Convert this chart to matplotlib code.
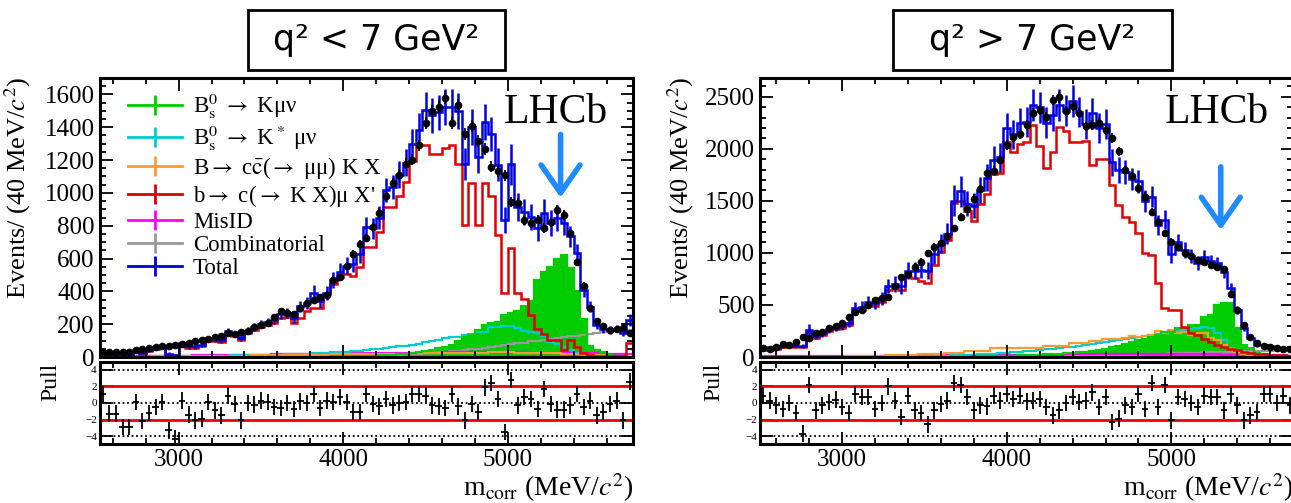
import numpy as np
import matplotlib
matplotlib.use('Agg')
import matplotlib.pyplot as plt
from matplotlib.lines import Line2D
from matplotlib.patches import Rectangle
from matplotlib.ticker import MultipleLocator

plt.rcParams['font.family'] = ['Liberation Serif', 'DejaVu Serif']
plt.rcParams['mathtext.fontset'] = 'stix'

# ---- binning (40 MeV bins) ----
edges_lo = np.arange(2520, 5761, 40)
edges_hi = np.arange(2500, 5741, 40)

# ---- q2 < 7 GeV2 ----
data_lo = [30, 30, 30, 30, 32, 40, 48, 57, 60, 65,
           69, 75, 80, 85, 95, 104, 112, 124, 126, 145,
           140, 150, 160, 185, 195, 210, 245, 280, 270, 260,
           300, 330, 348, 365, 380, 470, 485, 552, 627, 688,
           725, 790, 878, 983, 1061, 1112, 1177, 1203, 1289, 1427,
           1499, 1525, 1580, 1427, 1533, 1356, 1407, 1315, 1269, 1159,
           1132, 1106, 943, 939, 833, 816, 837, 786, 820, 898,
           867, 755, 576, 434, 297, 222, 189, 165, 169, 175,
           145]
total_lo = [39, 20, 20, 12, 12, 42, 26, 45, 55, 66,
            20, 12, 85, 64, 65, 76, 113, 111, 104, 159,
            140, 118, 160, 182, 200, 212, 228, 259, 270, 235,
            308, 330, 392, 341, 392, 470, 520, 557, 567, 628,
            790, 784, 850, 1018, 1036, 1112, 1185, 1297, 1384, 1507,
            1472, 1490, 1525, 1522, 1498, 1176, 1399, 1220, 1434, 1359,
            1172, 836, 1173, 915, 883, 851, 787, 880, 815, 848,
            817, 735, 631, 409, 307, 197, 171, 165, 173, 145,
            225]
total_err_lo = [12, 8, 8, 6, 6, 12, 8, 12, 12, 14,
                8, 6, 15, 14, 14, 15, 18, 18, 18, 20,
                20, 18, 22, 24, 25, 26, 28, 30, 30, 30,
                35, 38, 45, 40, 42, 48, 50, 52, 52, 55,
                65, 65, 70, 75, 75, 80, 85, 95, 100, 105,
                105, 105, 110, 110, 108, 95, 110, 100, 110, 105,
                100, 80, 125, 85, 80, 80, 78, 82, 78, 78,
                72, 65, 55, 42, 32, 24, 22, 22, 22, 20,
                35]
red_lo = [25, 12, 12, 6, 6, 35, 20, 38, 48, 58,
          14, 6, 75, 55, 56, 66, 100, 98, 92, 145,
          125, 105, 145, 165, 185, 195, 208, 235, 245, 205,
          240, 281, 300, 300, 383, 444, 485, 505, 495, 546,
          668, 668, 760, 913, 913, 984, 1069, 1197, 1289, 1289,
          1234, 1234, 1273, 1289, 1173, 806, 1063, 806, 1063, 979,
          745, 389, 666, 389, 354, 257, 169, 139, 104, 104,
          43, 104, 60, 24, 15, 8, 5, 5, 5, 5,
          88]
green_lo = [0, 0, 0, 0, 0, 0, 0, 0, 0, 0,
            0, 0, 0, 0, 0, 0, 0, 0, 0, 0,
            0, 0, 0, 0, 0, 1, 1, 1, 1, 1,
            2, 2, 2, 3, 3, 4, 4, 5, 6, 7,
            8, 9, 10, 12, 14, 17, 20, 24, 30, 36,
            44, 52, 62, 75, 95, 124, 134, 165, 195, 206,
            216, 257, 267, 280, 310, 340, 470, 520, 550, 600,
            620, 540, 400, 230, 70, 45, 30, 15, 8, 4,
            2]
cyan_lo = [2, 2, 2, 3, 3, 3, 3, 4, 4, 4,
           5, 5, 5, 6, 6, 7, 7, 8, 8, 9,
           10, 10, 11, 12, 12, 13, 14, 15, 16, 18,
           19, 20, 22, 24, 26, 28, 30, 32, 35, 38,
           42, 46, 50, 55, 60, 65, 70, 75, 80, 90,
           100, 104, 115, 124, 124, 135, 140, 155, 155, 181,
           181, 189, 189, 175, 161, 155, 145, 130, 94, 80,
           63, 43, 25, 15, 8, 5, 3, 2, 1, 1,
           1]
orange_lo = [2, 2, 2, 2, 3, 3, 3, 3, 4, 4,
             4, 5, 5, 5, 6, 6, 6, 7, 7, 8,
             8, 9, 9, 10, 10, 11, 11, 12, 12, 13,
             13, 14, 14, 15, 15, 16, 16, 17, 17, 18,
             18, 19, 19, 20, 20, 21, 21, 22, 22, 23,
             23, 24, 24, 25, 25, 26, 26, 27, 27, 28,
             28, 28, 28, 27, 27, 26, 25, 24, 23, 22,
             21, 20, 18, 16, 14, 12, 10, 8, 6, 4,
             2]
magenta_lo = [3, 3, 4, 4, 5, 5, 6, 6, 7, 7,
              8, 8, 9, 9, 10, 10, 11, 11, 12, 12,
              13, 13, 14, 14, 15, 15, 16, 16, 17, 17,
              18, 18, 19, 19, 20, 20, 21, 21, 22, 22,
              23, 23, 24, 24, 25, 25, 26, 26, 26, 27,
              27, 27, 28, 28, 28, 28, 29, 29, 29, 29,
              29, 29, 28, 28, 28, 27, 27, 26, 26, 25,
              25, 24, 24, 23, 22, 22, 21, 20, 20, 19,
              18]
gray_lo = [1, 1, 1, 1, 1, 1, 1, 1, 1, 1,
           1, 1, 1, 1, 1, 1, 1, 1, 1, 1,
           1, 1, 1, 1, 1, 1, 1, 1, 1, 1,
           2, 2, 2, 3, 3, 3, 3, 4, 4, 4,
           5, 6, 8, 10, 12, 14, 16, 18, 20, 22,
           25, 28, 30, 34, 38, 42, 46, 50, 55, 60,
           65, 75, 80, 84, 88, 95, 100, 105, 110, 115,
           120, 125, 130, 135, 140, 145, 150, 155, 158, 162,
           165]
pull_lo = [1.1, -1.3, -1.3, -2.9, -2.9, 0.1, -2.2, -1.2, -0.5, 0.1,
           -3.3, -4.3, 0.3, -1.4, -2.1, -1.9, 0.1, -0.9, -1.5, 0.9,
           -0.1, -2.1, 0.0, -0.2, 0.3, 0.1, -0.5, -0.6, 0.0, -0.7,
           0.2, 0.0, 1.1, -0.6, 0.3, 0.1, 0.7, 0.1, -1.1, -1.1,
           1.1, -0.1, -0.4, 0.5, -0.3, 0.0, 0.1, 1.1, 1.1, 0.9,
           -0.3, -0.4, -0.6, 1.1, -0.4, -2.1, -0.1, -1.1, 1.9, 2.4,
           0.5, -3.5, 2.8, -0.3, 0.7, 0.5, -0.7, 1.7, -0.1, -0.8,
           -0.8, -0.3, 1.1, -0.5, 0.3, -1.5, -1.1, -0.1, 0.3, -2.1,
           2.6]

# ---- q2 > 7 GeV2 ----
data_hi = [83, 80, 99, 122, 120, 141, 195, 185, 228, 240,
           276, 300, 330, 381, 436, 452, 500, 548, 564, 580,
           680, 772, 798, 869, 917, 997, 1061, 1093, 1160, 1237,
           1349, 1426, 1522, 1612, 1766, 1788, 1894, 2038, 2109, 2141,
           2228, 2343, 2372, 2308, 2468, 2494, 2365, 2413, 2343, 2215,
           2228, 2244, 2180, 2103, 1974, 1792, 1740, 1622, 1541, 1397,
           1301, 1189, 1109, 1061, 1003, 971, 933, 917, 885, 862,
           843, 606, 452, 308, 196, 131, 106, 93, 83, 80,
           78]
total_hi = [100, 82, 88, 108, 112, 110, 105, 260, 200, 230,
            270, 290, 300, 330, 470, 480, 530, 520, 564, 680,
            700, 680, 830, 830, 840, 830, 990, 1090, 1185, 1500,
            1590, 1470, 1452, 1600, 1720, 1890, 1917, 2200, 2140, 2250,
            2260, 2420, 2400, 2250, 2320, 2420, 2365, 2460, 2350, 2240,
            2340, 2200, 2240, 1870, 1800, 1775, 1710, 1690, 1500, 1540,
            1270, 1320, 990, 1100, 1030, 971, 905, 965, 920, 900,
            815, 661, 452, 280, 185, 120, 115, 102, 83, 86,
            76]
total_err_hi = [20, 15, 15, 18, 18, 18, 18, 55, 30, 35,
                35, 38, 40, 45, 55, 55, 60, 60, 62, 70,
                75, 75, 85, 80, 85, 85, 95, 95, 100, 150,
                150, 120, 120, 125, 130, 140, 140, 145, 140, 145,
                145, 150, 150, 150, 145, 150, 150, 150, 145, 145,
                150, 145, 145, 130, 125, 115, 110, 110, 105, 100,
                95, 90, 85, 80, 75, 70, 68, 65, 62, 60,
                55, 50, 40, 30, 25, 20, 18, 16, 15, 15,
                14]
red_hi = [90, 72, 78, 98, 102, 100, 95, 240, 182, 212,
          250, 270, 280, 308, 445, 455, 500, 490, 530, 645,
          660, 640, 772, 760, 734, 708, 885, 1013, 1125, 1484,
          1494, 1400, 1308, 1468, 1564, 1756, 1763, 2061, 1965, 2045,
          2067, 2228, 2029, 1811, 1965, 2205, 2173, 2067, 2067, 2077,
          1843, 1901, 1901, 1650, 1462, 1349, 1301, 1189, 997, 981,
          708, 468, 452, 452, 292, 228, 212, 170, 148, 115,
          99, 74, 67, 51, 40, 30, 25, 20, 18, 15,
          12]
green_hi = [0, 0, 0, 0, 0, 0, 0, 0, 0, 0,
            0, 0, 0, 0, 0, 0, 0, 0, 0, 0,
            1, 1, 1, 1, 1, 2, 2, 2, 2, 3,
            3, 4, 5, 6, 7, 8, 10, 12, 14, 16,
            18, 20, 22, 25, 28, 32, 36, 40, 45, 52,
            60, 70, 80, 95, 110, 125, 140, 160, 175, 190,
            210, 244, 244, 276, 276, 308, 308, 388, 404, 500,
            516, 516, 276, 119, 83, 40, 25, 12, 6, 3,
            2]
cyan_hi = [0, 0, 0, 0, 0, 0, 0, 0, 0, 0,
           1, 1, 1, 1, 2, 2, 2, 3, 3, 4,
           4, 5, 6, 7, 8, 9, 10, 12, 14, 16,
           18, 20, 22, 25, 28, 32, 36, 40, 45, 50,
           56, 62, 68, 74, 80, 86, 92, 100, 108, 116,
           124, 132, 140, 150, 160, 170, 180, 190, 200, 210,
           225, 235, 245, 250, 260, 270, 280, 285, 280, 230,
           160, 90, 45, 25, 12, 6, 3, 2, 1, 1,
           0]
orange_hi = [0, 0, 0, 0, 0, 0, 0, 0, 0, 0,
             0, 0, 0, 5, 8, 10, 10, 12, 12, 15,
             15, 18, 20, 22, 25, 28, 30, 32, 35, 35,
             35, 60, 60, 60, 60, 83, 83, 83, 83, 90,
             90, 90, 90, 106, 106, 106, 106, 138, 138, 138,
             155, 155, 170, 170, 170, 180, 200, 190, 200, 210,
             250, 230, 260, 228, 240, 210, 228, 228, 180, 163,
             120, 80, 50, 30, 20, 12, 8, 5, 3, 2,
             1]
magenta_hi = [5, 5, 5, 6, 6, 6, 7, 7, 7, 8,
              8, 8, 9, 9, 10, 10, 10, 11, 11, 12,
              12, 12, 13, 13, 14, 14, 15, 15, 16, 16,
              17, 17, 18, 18, 19, 19, 20, 20, 21, 21,
              22, 22, 23, 23, 24, 24, 25, 25, 26, 26,
              27, 27, 28, 28, 28, 29, 29, 29, 30, 30,
              30, 30, 30, 29, 29, 28, 28, 27, 26, 25,
              24, 23, 22, 21, 20, 19, 18, 17, 16, 15,
              14]
gray_hi = [0, 0, 0, 0, 0, 0, 0, 0, 0, 0,
           0, 0, 0, 0, 1, 1, 1, 1, 1, 2,
           2, 2, 2, 3, 3, 3, 3, 4, 4, 4,
           5, 5, 5, 6, 6, 6, 7, 7, 8, 8,
           9, 9, 10, 10, 11, 12, 12, 13, 14, 15,
           16, 17, 18, 19, 20, 21, 22, 24, 26, 28,
           30, 32, 34, 36, 38, 40, 42, 44, 46, 48,
           50, 52, 54, 55, 56, 57, 58, 58, 59, 60,
           60]
pull_hi = [0.9, 0.3, -0.3, -0.7, 0.0, -1.2, -3.7, 2.2, -0.9, -0.3,
           0.1, 0.4, -0.5, -1.2, 1.1, 0.7, 0.7, -0.7, 0.0, 2.0,
           0.3, -1.7, 0.9, -0.9, -1.2, -2.6, -0.9, -0.1, 0.3, 2.4,
           2.2, 0.7, -0.9, -0.3, -0.4, 0.9, 0.3, 1.1, 0.5, 0.9,
           0.2, 0.3, 0.5, -0.5, -1.5, -0.9, 0.0, 0.7, 0.1, 0.3,
           1.3, -0.5, 0.7, -2.3, -1.9, -0.3, -0.5, 1.1, -0.7, 2.4,
           -0.5, 2.2, -2.1, 0.7, 0.5, 0.0, -0.5, 0.9, 0.7, 0.7,
           -0.9, 1.1, -0.3, -2.1, -1.5, -1.1, 1.1, 1.1, 0.0, 0.9,
           -0.3]

labels = [r'B$_\mathrm{s}^0$ $\rightarrow$ Kμν',
          r'B$_\mathrm{s}^0$ $\rightarrow$ K$^*$ μν',
          r'B$\rightarrow$ c$\bar{\mathrm{c}}$($\rightarrow$ μμ) K X',
          r"b$\rightarrow$ c($\rightarrow$ K X)μ X'",
          'MisID', 'Combinatorial', 'Total']

GREEN, CYAN, ORANGE, RED = '#00CC00', '#00CCCC', '#FF9933', '#DD0000'
MAGENTA, GRAY, BLUE = '#FF00FF', '#999999', '#0000DD'
ARROW = '#1E8CFF'


def style(a):
    a.tick_params(which='both', direction='in', top=True, right=True, width=1.3)
    a.tick_params(which='major', length=9)
    a.tick_params(which='minor', length=4.5)
    for s in a.spines.values():
        s.set_linewidth(2.2)


def panel(ax, axp, edges, data, total, total_err, red, green, cyan, orange,
          magenta, gray, pull, ymax, ymaj, ymin, lab_x, plab_x):
    c = 0.5 * (edges[:-1] + edges[1:])
    ax.stairs(green, edges, fill=True, color=GREEN, lw=0)
    for vals, col in [(gray, GRAY), (magenta, MAGENTA), (cyan, CYAN),
                      (orange, ORANGE), (green, GREEN)]:
        ax.stairs(vals, edges, color=col, lw=1.6)
    ax.stairs(red, edges, color=RED, lw=1.8)
    ax.stairs(total, edges, color=BLUE, lw=1.8)
    ax.errorbar(c, total, yerr=total_err, fmt='none', ecolor=BLUE, elinewidth=1.8)
    data = np.array(data, dtype=float)
    ax.errorbar(c, data, yerr=np.sqrt(data), fmt='o', color='k', ms=4.5,
                elinewidth=1.2, capsize=0)

    ax.set_xlim(edges[0], edges[-1])
    ax.set_ylim(0, ymax)
    ax.xaxis.set_major_locator(MultipleLocator(1000))
    ax.xaxis.set_minor_locator(MultipleLocator(200))
    ax.yaxis.set_major_locator(MultipleLocator(ymaj))
    ax.yaxis.set_minor_locator(MultipleLocator(ymin))
    ax.tick_params(labelbottom=False, labelsize=18)
    style(ax)
    ax.set_ylabel(r'Events/ (40 MeV/$c^2$)', fontsize=19)
    ax.yaxis.set_label_coords(lab_x, 0.6075)

    axp.axhline(2, color='#EE0000', lw=2)
    axp.axhline(-2, color='#EE0000', lw=2)
    for y in (-4, 0, 4):
        axp.axhline(y, color='k', ls=(0, (1, 1.5)), lw=1.3)
    axp.errorbar(c, pull, yerr=1, xerr=20, fmt='none', ecolor='k', elinewidth=1.3)
    axp.set_xlim(edges[0], edges[-1])
    axp.set_ylim(-5, 5)
    axp.set_yticks([-4, -2, 0, 2, 4])
    axp.xaxis.set_major_locator(MultipleLocator(1000))
    axp.xaxis.set_minor_locator(MultipleLocator(200))
    style(axp)
    axp.tick_params(axis='x', labelsize=18)
    axp.tick_params(axis='y', labelsize=8, pad=2)
    axp.set_ylabel('Pull', fontsize=17)
    axp.yaxis.set_label_coords(plab_x, 0.754)
    axp.set_xlabel(r'm$_\mathrm{corr}$ (MeV/$c^2$)', fontsize=20)
    axp.xaxis.set_label_coords(1.0, -0.33)
    axp.xaxis.label.set_horizontalalignment('right')


W, H = 1291, 503
fig = plt.figure(figsize=(W / 100, H / 100), dpi=100)


def rect(x0, y0, x1, y1):
    return [x0 / W, 1 - y1 / H, (x1 - x0) / W, (y1 - y0) / H]


ax_lo = fig.add_axes(rect(99.6, 78, 633, 357))
axp_lo = fig.add_axes(rect(99.6, 361.7, 633, 444.3))
ax_hi = fig.add_axes(rect(759.8, 78, 1293.2, 357))
axp_hi = fig.add_axes(rect(759.8, 361.7, 1293.2, 444.3))

panel(ax_lo, axp_lo, edges_lo, data_lo, total_lo, total_err_lo, red_lo, green_lo,
      cyan_lo, orange_lo, magenta_lo, gray_lo, pull_lo, 1700, 200, 50, -0.125, -0.072)
panel(ax_hi, axp_hi, edges_hi, data_hi, total_hi, total_err_hi, red_hi, green_hi,
      cyan_hi, orange_hi, magenta_hi, gray_hi, pull_hi, 2680, 500, 100, -0.12, -0.066)

# legend
handles = [Line2D([], [], color=col, lw=2, marker='|', ms=14, mew=2)
           for col in (GREEN, CYAN, ORANGE, RED, MAGENTA, GRAY, BLUE)]
ax_lo.legend(handles, labels, loc='upper left', bbox_to_anchor=(0.053, 0.95),
             frameon=False, fontsize=16.5, handlelength=2.36, handletextpad=0.48,
             labelspacing=0.1, borderpad=0, borderaxespad=0)

for ax in (ax_lo, ax_hi):
    ax.text(0.856, 0.839, 'LHCb', transform=ax.transAxes, ha='center',
            va='baseline', fontsize=30)

ax_lo.annotate('', xy=(5320, 971), xytext=(5320, 1356),
               arrowprops=dict(arrowstyle='->,head_length=0.5,head_width=0.35',
                               lw=4, color=ARROW, mutation_scale=40,
                               shrinkA=0, shrinkB=0))
ax_hi.annotate('', xy=(5300, 1221), xytext=(5300, 1827),
               arrowprops=dict(arrowstyle='->,head_length=0.5,head_width=0.35',
                               lw=4, color=ARROW, mutation_scale=40,
                               shrinkA=0, shrinkB=0))

# title boxes
for (x0, x1), txt in [((248, 505), 'q² < 7 GeV²'), ((893, 1172), 'q² > 7 GeV²')]:
    fig.add_artist(Rectangle((x0 / W, 1 - 70 / H), (x1 - x0) / W, 60 / H,
                             transform=fig.transFigure, fill=False, lw=2, ec='k'))
    fig.text((x0 + x1) / 2 / W, 1 - 40 / H, txt, ha='center', va='center',
             fontsize=25, family='DejaVu Sans')

fig.savefig('out.png', dpi=100)
